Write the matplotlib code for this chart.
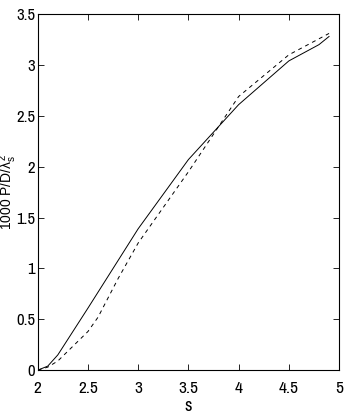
import matplotlib
matplotlib.use('Agg')
import matplotlib.pyplot as plt

# data
s_solid = [2.0, 2.1, 2.2, 2.5, 3.0, 3.5, 4.0, 4.5, 4.8, 4.9]
p_solid = [0.0, 0.04, 0.15, 0.61, 1.39, 2.07, 2.61, 3.04, 3.20, 3.28]

s_dash = [2.0, 2.1, 2.2, 2.5, 2.6, 2.8, 3.0, 3.5, 3.75, 4.0, 4.5, 4.9]
p_dash = [0.0, 0.03, 0.09, 0.38, 0.52, 0.90, 1.25, 1.95, 2.32, 2.69, 3.10, 3.31]

xticks = [2, 2.5, 3, 3.5, 4, 4.5, 5]
yticks = [0, 0.5, 1, 1.5, 2, 2.5, 3, 3.5]
xticklabels = ['2', '2.5', '3', '3.5', '4', '4.5', '5']
yticklabels = ['0', '0.5', '1', '1.5', '2', '2.5', '3', '3.5']

narrow = ['Archivo Narrow', 'PT Sans Narrow', 'Roboto Condensed', 'Liberation Sans Narrow', 'Liberation Sans']
plt.rcParams['font.family'] = ['Liberation Sans', 'DejaVu Sans']
plt.rcParams['mathtext.fontset'] = 'custom'
plt.rcParams['mathtext.rm'] = 'Liberation Sans'
plt.rcParams['mathtext.it'] = 'Liberation Sans'

fig = plt.figure(figsize=(3.46, 4.15), dpi=100)
ax = fig.add_axes([0.109, 0.108, 0.871, 0.858])

ax.plot(s_solid, p_solid, color='black', linewidth=0.7)
ax.plot(s_dash, p_dash, color='black', linewidth=0.7, linestyle=(0, (4, 4)))

ax.set_xlim(2, 5)
ax.set_ylim(0, 3.5)
ax.set_xticks(xticks)
ax.set_xticklabels(xticklabels, family=narrow, fontsize=12.5)
ax.set_yticks(yticks)
ax.set_yticklabels(yticklabels, family=narrow, fontsize=12)
ax.tick_params(direction='in', top=True, right=True, length=4, width=0.6)
ax.tick_params(axis='x', pad=8)
ax.tick_params(axis='y', pad=2)
for sp in ax.spines.values():
    sp.set_linewidth(0.8)

ax.set_xlabel('s', fontsize=13, family=narrow, labelpad=1)
ax.set_ylabel(r'1000 P/D/$\lambda_s^2$', fontsize=10)
ax.yaxis.set_label_coords(-0.062, 0.5)

fig.savefig('out.png', dpi=100)
